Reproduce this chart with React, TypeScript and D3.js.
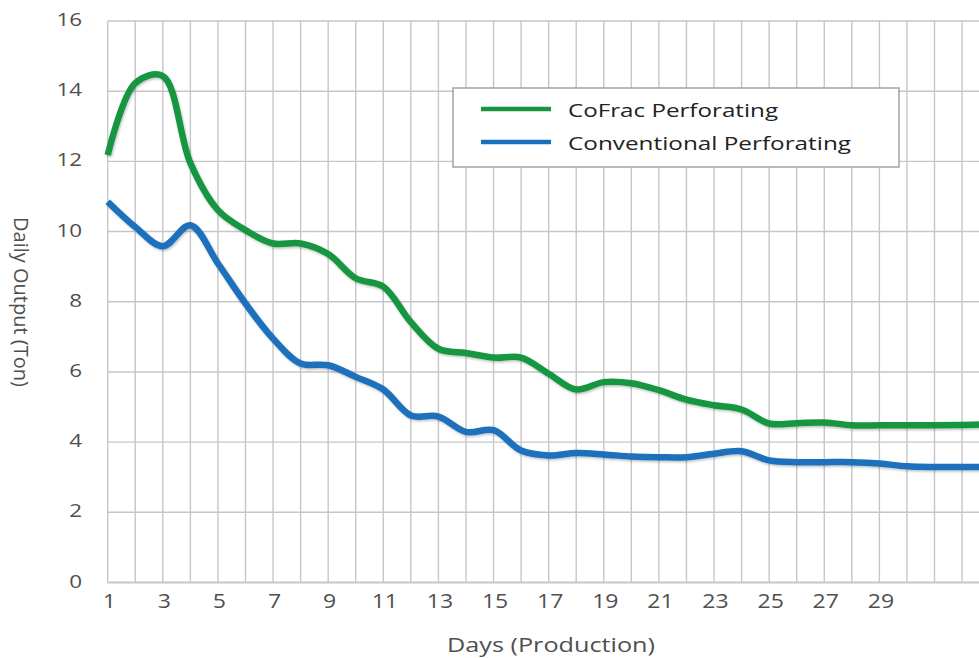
import React from "react";
import * as d3 from "d3";

const days: number[] = d3.range(1, 34);
const cofrac: number[] = [
  12.18, 14.23, 14.43, 11.95, 10.61, 10.04, 9.66, 9.66, 9.36, 8.67, 8.43, 7.42,
  6.66, 6.54, 6.41, 6.41, 5.95, 5.5, 5.71, 5.68, 5.48, 5.21, 5.05, 4.93, 4.53,
  4.54, 4.56, 4.48, 4.48, 4.48, 4.48, 4.49, 4.51,
];
const conventional: number[] = [
  10.85, 10.13, 9.58, 10.18, 9.09, 7.95, 6.95, 6.24, 6.19, 5.86, 5.5, 4.76, 4.73,
  4.29, 4.34, 3.76, 3.62, 3.69, 3.65, 3.59, 3.57, 3.57, 3.67, 3.74, 3.48, 3.43,
  3.43, 3.43, 3.39, 3.31, 3.29, 3.29, 3.29,
];
const xTickLabels: number[] = [1, 3, 5, 7, 9, 11, 13, 15, 17, 19, 21, 23, 25, 27, 29];
const yTicks: number[] = [0, 2, 4, 6, 8, 10, 12, 14, 16];
const seriesNames: string[] = ["CoFrac Perforating", "Conventional Perforating"];
const seriesColors: string[] = ["#17963f", "#1a6fbc"];
const xTitle = "Days (Production)";
const yTitle = "Daily Output (Ton)";

const W = 979;
const H = 658;
const FONT = "'Open Sans', 'Noto Sans', sans-serif";

export default function App() {
  const x = d3.scaleLinear().domain([1, 33]).range([107.7, 107.7 + 32 * 27.56]);
  const y = d3.scaleLinear().domain([0, 16]).range([582.5, 21]);
  const line = d3
    .line<number>()
    .x((_, i) => x(days[i]))
    .y((d) => y(d))
    .curve(d3.curveCatmullRom.alpha(0.5));
  const series = [cofrac, conventional];
  const gridColor = "#c6c6ca";
  const left = x(1);

  return (
    <svg
      width={W}
      height={H}
      style={{ position: "absolute", left: 0, top: 0, background: "#fff" }}
    >
      <defs>
        <filter id="sh" x="-5%" y="-5%" width="110%" height="120%">
          <feDropShadow dx="1" dy="1.5" stdDeviation="1.2" floodColor="#000" floodOpacity="0.25" />
        </filter>
      </defs>
      <rect x={0} y={0} width={W} height={H} fill="#fff" />
      {days.map((d) => (
        <line
          key={"v" + d}
          x1={x(d)}
          x2={x(d)}
          y1={y(16)}
          y2={y(0)}
          stroke={gridColor}
          strokeWidth={1.4}
        />
      ))}
      {yTicks.map((t) => (
        <line
          key={"h" + t}
          x1={left}
          x2={W + 20}
          y1={y(t)}
          y2={y(t)}
          stroke={gridColor}
          strokeWidth={t === 0 ? 1.8 : 1.4}
        />
      ))}
      {yTicks.map((t) => (
        <text
          key={"yl" + t}
          transform={`translate(82,${y(t) + 5}) scale(1.18,1)`}
          textAnchor="end"
          fontFamily={FONT}
          fontSize={19}
          fill="#4f4f4f"
        >
          {t}
        </text>
      ))}
      {xTickLabels.map((t) => (
        <text
          key={"xl" + t}
          transform={`translate(${x(t) + 1.5},608) scale(1.18,1)`}
          textAnchor="middle"
          fontFamily={FONT}
          fontSize={19.5}
          fill="#4f4f4f"
        >
          {t}
        </text>
      ))}
      {series.map((s, i) => (
        <path
          key={"s" + i}
          d={line(s) || ""}
          fill="none"
          stroke={seriesColors[i]}
          strokeWidth={6.5}
          strokeLinejoin="round"
          filter="url(#sh)"
        />
      ))}
      <rect x={453} y={88} width={446} height={79} fill="#fff" stroke="#a3a3a3" strokeWidth={1.5} />
      {seriesNames.map((n, i) => (
        <g key={"lg" + i}>
          <line
            x1={481}
            x2={551}
            y1={109 + i * 33}
            y2={109 + i * 33}
            stroke={seriesColors[i]}
            strokeWidth={4.3}
          />
          <text
            x={568}
            y={117 + i * 33}
            fontFamily={FONT}
            fontSize={19}
            fill="#222"
            textLength={i === 0 ? 210 : 283}
            lengthAdjust="spacingAndGlyphs"
          >
            {n}
          </text>
        </g>
      ))}
      <text
        x={447}
        y={651.5}
        fontFamily={FONT}
        fontSize={20}
        fill="#4f4f4f"
        textLength={208}
        lengthAdjust="spacingAndGlyphs"
      >
        {xTitle}
      </text>
      <text
        transform="translate(14,302) rotate(90)"
        textAnchor="middle"
        fontFamily={FONT}
        fontSize={20}
        fill="#4f4f4f"
      >
        {yTitle}
      </text>
    </svg>
  );
}
